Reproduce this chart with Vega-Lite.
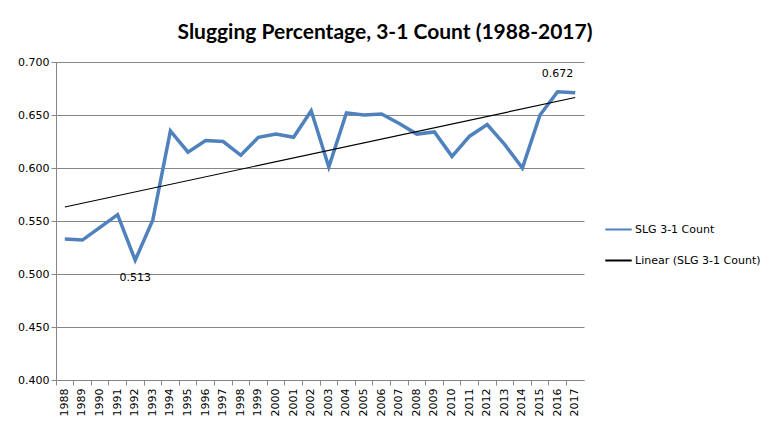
{
  "$schema": "https://vega.github.io/schema/vega-lite/v6.json",
  "autosize": "none",
  "width": 528,
  "height": 318,
  "padding": {"left": 56, "top": 62, "right": 191, "bottom": 53},
  "background": "white",
  "title": {
    "text": "Slugging Percentage, 3-1 Count (1988-2017)",
    "font": "Lato",
    "fontSize": 21,
    "fontWeight": "bold",
    "color": "black",
    "anchor": "middle",
    "dx": 65,
    "offset": 13
  },
  "config": {
    "view": {"stroke": null},
    "axis": {
      "labelFont": "DejaVu Sans",
      "labelFontSize": 11,
      "labelColor": "black",
      "domainColor": "#868686",
      "tickColor": "#868686",
      "gridColor": "#868686",
      "title": null
    },
    "legend": {"labelFont": "DejaVu Sans", "labelFontSize": 11, "labelColor": "black"}
  },
  "data": {
    "values": [
      {"Year": 1988, "SLG": 0.533},
      {"Year": 1989, "SLG": 0.532},
      {"Year": 1990, "SLG": 0.544},
      {"Year": 1991, "SLG": 0.556},
      {"Year": 1992, "SLG": 0.513},
      {"Year": 1993, "SLG": 0.551},
      {"Year": 1994, "SLG": 0.635},
      {"Year": 1995, "SLG": 0.615},
      {"Year": 1996, "SLG": 0.626},
      {"Year": 1997, "SLG": 0.625},
      {"Year": 1998, "SLG": 0.612},
      {"Year": 1999, "SLG": 0.629},
      {"Year": 2000, "SLG": 0.632},
      {"Year": 2001, "SLG": 0.629},
      {"Year": 2002, "SLG": 0.654},
      {"Year": 2003, "SLG": 0.601},
      {"Year": 2004, "SLG": 0.652},
      {"Year": 2005, "SLG": 0.650},
      {"Year": 2006, "SLG": 0.651},
      {"Year": 2007, "SLG": 0.642},
      {"Year": 2008, "SLG": 0.632},
      {"Year": 2009, "SLG": 0.634},
      {"Year": 2010, "SLG": 0.611},
      {"Year": 2011, "SLG": 0.630},
      {"Year": 2012, "SLG": 0.641},
      {"Year": 2013, "SLG": 0.622},
      {"Year": 2014, "SLG": 0.600},
      {"Year": 2015, "SLG": 0.650},
      {"Year": 2016, "SLG": 0.672},
      {"Year": 2017, "SLG": 0.671}
    ]
  },
  "encoding": {
    "x": {
      "field": "Year",
      "type": "ordinal",
      "bandPosition": 0.5,
      "scale": {"type": "band", "paddingInner": 0, "paddingOuter": 0},
      "axis": {
        "labelAngle": -90,
        "labelAlign": "right",
        "labelBaseline": "middle",
        "bandPosition": 0,
        "tickSize": 5,
        "labelPadding": 3,
        "grid": false
      }
    },
    "y": {
      "field": "SLG",
      "type": "quantitative",
      "scale": {"domain": [0.4, 0.7], "nice": false, "zero": false},
      "axis": {
        "values": [0.4, 0.45, 0.5, 0.55, 0.6, 0.65, 0.7],
        "format": ".3f",
        "tickSize": 5,
        "labelPadding": 2,
        "grid": true
      }
    }
  },
  "layer": [
    {
      "mark": {"type": "line", "strokeWidth": 3.5, "strokeJoin": "miter"},
      "encoding": {
        "color": {
          "datum": "SLG 3-1 Count",
          "scale": {
            "domain": ["SLG 3-1 Count", "Linear (SLG 3-1 Count)"],
            "range": ["#4F81BD", "black"]
          },
          "legend": {
            "title": null,
            "orient": "none",
            "legendX": 548,
            "legendY": 153,
            "symbolType": "stroke",
            "symbolSize": 700,
            "symbolStrokeWidth": 2,
            "rowPadding": 11,
            "labelOffset": 2
          }
        }
      }
    },
    {
      "transform": [{"regression": "SLG", "on": "Year"}],
      "mark": {"type": "line", "strokeWidth": 1.2},
      "encoding": {"color": {"datum": "Linear (SLG 3-1 Count)"}}
    },
    {
      "transform": [{"filter": "datum.Year == 1992"}],
      "mark": {"type": "text", "font": "DejaVu Sans", "fontSize": 11, "dy": 18, "color": "black"},
      "encoding": {"text": {"field": "SLG", "type": "quantitative", "format": ".3f"}}
    },
    {
      "transform": [{"filter": "datum.Year == 2016"}],
      "mark": {"type": "text", "font": "DejaVu Sans", "fontSize": 11, "dy": -18, "color": "black"},
      "encoding": {"text": {"field": "SLG", "type": "quantitative", "format": ".3f"}}
    }
  ]
}
